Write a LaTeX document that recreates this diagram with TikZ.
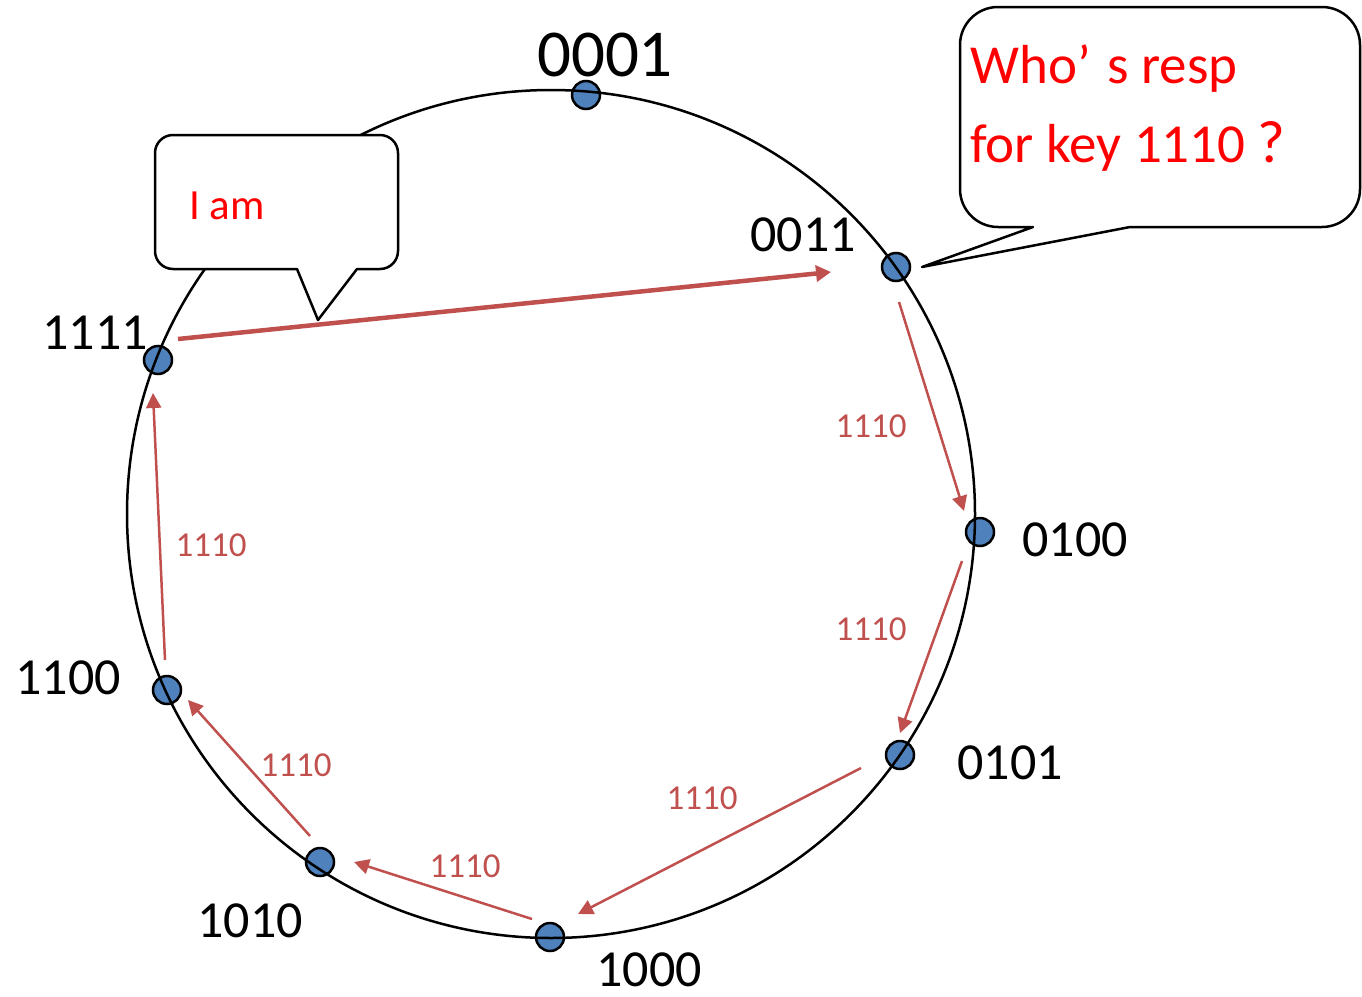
\documentclass[tikz,border=0pt]{standalone}
\usepackage{fontspec}
\setmainfont{Carlito}
\usetikzlibrary{arrows.meta}
\definecolor{dotblue}{HTML}{4F81BD}
\definecolor{arrred}{HTML}{C0504D}
\begin{document}
\begin{tikzpicture}[x=1pt,y=-1pt,
  peer/.style={circle, draw=black, fill=dotblue, line width=2.5pt, minimum size=28pt, inner sep=0pt},
  idlabel/.style={inner sep=0pt, font=\fontsize{52}{60}\selectfont},
  keylabel/.style={inner sep=0pt, text=arrred, font=\fontsize{35}{40}\selectfont},
  hop/.style={draw=arrred, line width=2.5pt, -{Triangle[length=15pt,width=15pt]}},
  bighop/.style={draw=arrred, line width=4.5pt, -{Triangle[length=15pt,width=16pt]}},
  bubble/.style={draw=black, fill=white, line width=2.5pt, line join=round},
  saytext/.style={anchor=base west, inner sep=0pt, text=red},
]
\useasboundingbox (0,0) rectangle (1362,996);
% peers
\node[peer] (p0001) at (586,95) {};
\node[peer] (p0011) at (896,267) {};
\node[peer] (p0100) at (980,532) {};
\node[peer] (p0101) at (900,755) {};
\node[peer] (p1000) at (550,937) {};
\node[peer] (p1010) at (320,862) {};
\node[peer] (p1100) at (167,690) {};
\node[peer] (p1111) at (158,360) {};
% ring
\draw[line width=2.5pt] (551,514) circle[radius=424];
% id labels
\node[inner sep=0pt, font=\fontsize{67}{72}\selectfont] (l0001) at (605,55) {0001};
\node[idlabel] (l0011) at (803,235) {0011};
\node[idlabel] (l0100) at (1075,540) {0100};
\node[idlabel] (l0101) at (1010,763) {0101};
\node[idlabel] (l1000) at (649,970) {1000};
\node[idlabel] (l1010) at (250,921) {1010};
\node[idlabel] (l1100) at (68,678) {1100};
\node[idlabel] (l1111) at (95,333) {1111};
% hop end points
\coordinate (h0s) at (178,339);  \coordinate (h0e) at (831,272);
\coordinate (h1s) at (899,302);  \coordinate (h1e) at (964,511);
\coordinate (h2s) at (962,561);  \coordinate (h2e) at (900,733);
\coordinate (h3s) at (861,768);  \coordinate (h3e) at (578,914);
\coordinate (h4s) at (532,919);  \coordinate (h4e) at (354,862);
\coordinate (h5s) at (310,836);  \coordinate (h5e) at (188,700);
\coordinate (h6s) at (165,660);  \coordinate (h6e) at (153,393);
\draw[bighop] (h0s) -- (h0e);
\draw[hop] (h1s) -- (h1e);
\draw[hop] (h2s) -- (h2e);
\draw[hop] (h3s) -- (h3e);
\draw[hop] (h4s) -- (h4e);
\draw[hop] (h5s) -- (h5e);
\draw[hop] (h6s) -- (h6e);
% key labels
\node[keylabel] (k1) at (871,426) {1110};
\node[keylabel] (k2) at (871,629) {1110};
\node[keylabel] (k3) at (702,798) {1110};
\node[keylabel] (k4) at (465,866) {1110};
\node[keylabel] (k5) at (296,765) {1110};
\node[keylabel] (k6) at (211,545) {1110};
% callout: I am
\draw[bubble] (318,320) -- (357,269) [rounded corners=18pt] -- (398,269) -- (398,135) -- (155,135) -- (155,269) [sharp corners] -- (297,269) -- cycle;
\node[saytext, font=\fontsize{43}{48}\selectfont] (iam) at (189,219) {I am};
% callout: question
\draw[bubble] (922,267) -- (1033,227) [rounded corners=38pt] -- (960,227) -- (960,7) -- (1360,7) -- (1360,227) [sharp corners] -- (1130,227) -- cycle;
\node[saytext, font=\fontsize{55}{60}\selectfont] (q1) at (970,83) {Who’\kern0.3em s resp};
\node[saytext, font=\fontsize{55}{60}\selectfont] (q2) at (970,162) {for key 1110\kern0.22em{\fontsize{60}{60}\selectfont ?}};
\end{tikzpicture}
\end{document}
